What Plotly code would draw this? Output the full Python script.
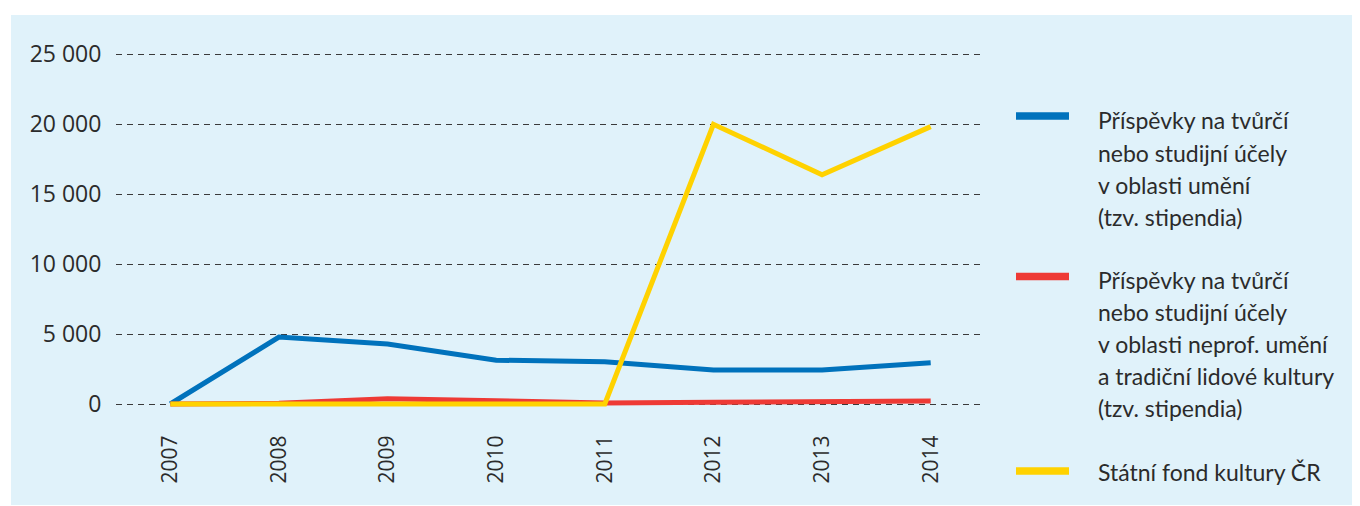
import plotly.graph_objects as go

years = ["2007", "2008", "2009", "2010", "2011", "2012", "2013", "2014"]
stipendia_umeni = [0, 4780, 4280, 3130, 3020, 2430, 2430, 2950]
stipendia_neprof = [0, 50, 380, 250, 80, 120, 160, 214]
sfk = [0, 0, 0, 0, 0, 19980, 16380, 19810]

names = [
    ["Příspěvky na tvůrčí", "nebo studijní účely", "v oblasti umění", "(tzv. stipendia)"],
    ["Příspěvky na tvůrčí", "nebo studijní účely", "v oblasti neprof. umění",
     "a tradiční lidové kultury", "(tzv. stipendia)"],
    ["Státní fond kultury ČR"],
]
colors = ["#0072bc", "#ee3a35", "#ffd200"]
series = [stipendia_umeni, stipendia_neprof, sfk]

tickvals = [0, 5000, 10000, 15000, 20000, 25000]
ticktext = ["0", "5 000", "10 000", "15 000", "20 000", "25 000"]

fig = go.Figure()
for nm, c, s in zip(names, colors, series):
    fig.add_trace(go.Scatter(x=years, y=s, name=" ".join(nm), mode="lines",
                             line=dict(color=c, width=5), showlegend=False))

W, H = 1360, 506
OFF = 8  # page body margin
l, t, pw, ph = 116 - OFF, 40 - OFF, 869, 378
r, b = W - l - pw, H - t - ph


def px(x):
    return (x - OFF - l) / pw


def py(y):
    return (H - b - (y - OFF)) / ph


fig.add_shape(type="rect", xref="paper", yref="paper", layer="below",
              x0=px(11), x1=px(1370), y0=py(505), y1=py(15),
              fillcolor="#e0f2fa", line=dict(width=0))

# manual legend
sym_y = [116, 276.5, 471]
first_line_y = [119.5, 279, 471]
line_gap = 32
for i, (nm, c) in enumerate(zip(names, colors)):
    fig.add_shape(type="line", xref="paper", yref="paper",
                  x0=px(1016), x1=px(1069), y0=py(sym_y[i]), y1=py(sym_y[i]),
                  line=dict(color=c, width=7.5))
    for j, txt in enumerate(nm):
        fig.add_annotation(xref="paper", yref="paper", x=px(1096),
                           y=py(first_line_y[i] + j * line_gap + 1),
                           xanchor="left", yanchor="middle", showarrow=False,
                           text=txt, font=dict(family="Lato", size=23, color="#2b2b2b"))

fig.update_layout(
    width=W, height=H,
    margin=dict(l=l, r=r, t=t, b=b),
    paper_bgcolor="white",
    plot_bgcolor="rgba(0,0,0,0)",
    font=dict(family="Open Sans", size=22, color="#2b2b2b"),
    showlegend=False,
    xaxis=dict(
        type="category", range=[-0.5, 7.5], tickangle=-90,
        showgrid=False, zeroline=False, showline=False,
        ticks="outside", ticklen=8, tickcolor="rgba(0,0,0,0)",
        tickfont=dict(size=21),
    ),
    yaxis=dict(
        range=[-1000, 26000], tickvals=tickvals, ticktext=ticktext,
        showgrid=True, gridcolor="#3a3a3a", gridwidth=1, griddash="6px,5px",
        zeroline=False, showline=False,
        ticks="outside", ticklen=9, tickcolor="rgba(0,0,0,0)",
        tickfont=dict(size=23),
    ),
)

fig.write_html("out.html")
